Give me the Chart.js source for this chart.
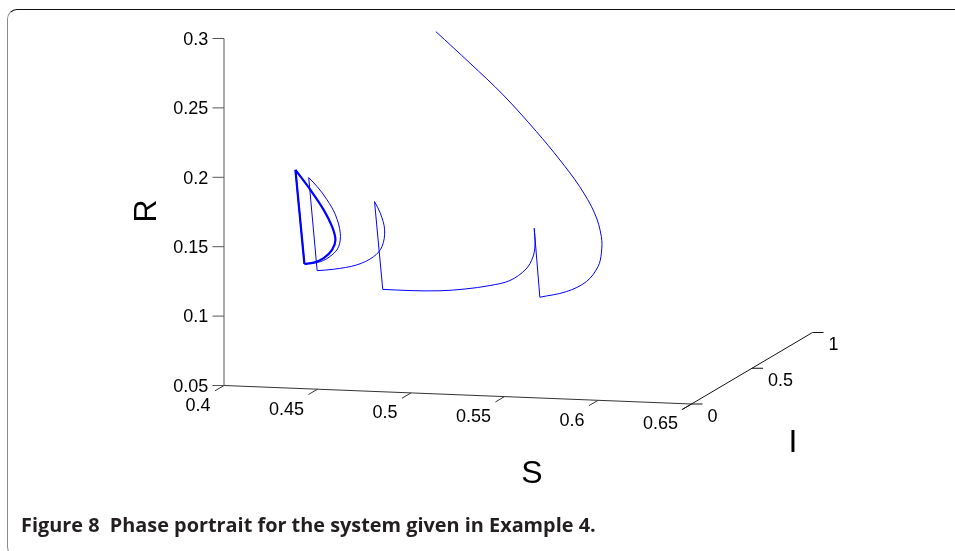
<!DOCTYPE html>
<html>
<head>
<meta charset="utf-8">
<script src="https://cdn.jsdelivr.net/npm/chart.js@4.4.1/dist/chart.umd.min.js"></script>
<style>
  html, body { margin: 0; padding: 0; background: #fff; overflow: hidden; width: 955px; height: 551px; }
  #lienzo { position: absolute; left: 0; top: 0; }
  #marco {
    position: absolute; left: 7px; top: 9px; width: 1000px; height: 546px;
    border-top: 1.5px solid #111; border-left: 1.5px solid #8a8a8a; border-bottom: 1.5px solid #8a8a8a;
    border-top-left-radius: 10px; border-bottom-left-radius: 10px;
  }
  #pie {
    position: absolute; left: 21px; top: 518px; line-height: 1;
    font-family: "Open Sans", sans-serif; font-weight: bold; font-size: 17px;
    color: #231f20; white-space: pre;
  }
</style>
</head>
<body>
<div id="marco"></div>
<canvas id="lienzo" width="955" height="551"></canvas>
<div id="pie">Figure 8  Phase portrait for the system given in Example 4.</div>
<script>
/* tick values and labels of the three axes */
const ticks_s  = [0.4, 0.45, 0.5, 0.55, 0.6, 0.65];
const labels_s = ['0.4', '0.45', '0.5', '0.55', '0.6', '0.65'];
const ticks_r  = [0.05, 0.1, 0.15, 0.2, 0.25, 0.3];
const labels_r = ['0.05', '0.1', '0.15', '0.2', '0.25', '0.3'];
const ticks_i  = [0, 0.5, 1];
const labels_i = ['0', '0.5', '1'];

/* trajectory pieces between impulses, [S, R] read in the I = 0 plane */
const arc_1 = [[0.5133, 0.3110], [0.5316, 0.2892], [0.5493, 0.2673], [0.5671, 0.2418], [0.5796, 0.2221],
               [0.5902, 0.2034], [0.5982, 0.1847], [0.6018, 0.1680], [0.6018, 0.1561], [0.6000, 0.1463],
               [0.5938, 0.1352], [0.5831, 0.1274], [0.5689, 0.1226]];
const arc_2 = [[0.5659, 0.1721], [0.5663, 0.1601], [0.5652, 0.1514], [0.5615, 0.1425], [0.5529, 0.1338],
               [0.5422, 0.1296], [0.5289, 0.1264], [0.5155, 0.1244], [0.4995, 0.1237], [0.4849, 0.1238]];
const arc_3 = [[0.4805, 0.1868], [0.4836, 0.1786], [0.4859, 0.1667], [0.4845, 0.1546], [0.4800, 0.1471],
               [0.4711, 0.1407], [0.4587, 0.1369], [0.4498, 0.1354]];
const arc_4 = [[0.4453, 0.2022], [0.4498, 0.1960], [0.4551, 0.1867], [0.4596, 0.1761], [0.4622, 0.1630],
               [0.4613, 0.1533], [0.4578, 0.1472], [0.4516, 0.1420], [0.4430, 0.1399]];
/* the periodic orbit the solution settles on */
const ciclo = [[0.4382, 0.2074], [0.4462, 0.1934], [0.4533, 0.1794], [0.4578, 0.1676], [0.4596, 0.1581],
               [0.4578, 0.1508], [0.4533, 0.1446], [0.4480, 0.1411], [0.4430, 0.1399]];

/* view of the 3d box: S along x, R up, I goes back to the right */
const S_MIN = 0.4, S_MAX = 0.65, R_MIN = 0.05, R_MAX = 0.3, I_MIN = -0.08, I_MAX = 1;
const PX_S = 1870, PX_R = 1388;            /* pixels per unit of S and R */
const ORIG_X = 224, ORIG_Y = 385.5;        /* pixel of S=0.4, R=0.05, I=0 */
const INCL_S = 74 / PX_R;                  /* S axis drops a little to the right */
const I_DX = 121 / PX_S, I_DY = 71.5 / PX_R;

function a_vista(s, r, i) {
    return { x: s + i * I_DX, y: r - (s - S_MIN) * INCL_S + i * I_DY };
}
const a_puntos = arco => arco.map(p => a_vista(p[0], p[1], 0));

/* straight jumps at the impulse times */
const arcos = [arc_1, arc_2, arc_3, arc_4, ciclo];
const saltos = [];
for (let k = 0; k < arcos.length - 1; k++) {
    saltos.push([arcos[k][arcos[k].length - 1], arcos[k + 1][0]]);
}

const AZUL = '#0000ff';
const curva = (arco, ancho) => ({
    data: a_puntos(arco), showLine: true, borderColor: AZUL, borderWidth: ancho,
    pointRadius: 0, tension: 0.35, fill: false
});
const recta = (arco, ancho) => ({
    data: a_puntos(arco), showLine: true, borderColor: AZUL, borderWidth: ancho,
    pointRadius: 0, tension: 0, fill: false
});

const datasets = [
    curva(arc_1, 1), curva(arc_2, 1), curva(arc_3, 1), curva(arc_4, 1),
    ...saltos.slice(0, 3).map(s => recta(s, 1)),
    recta(saltos[3], 1.3),
    curva(ciclo, 2.2),
    recta([ciclo[ciclo.length - 1], ciclo[0]], 2.2)
];

/* draws the three box axes, their ticks, labels and titles */
const ejes_3d = {
    id: 'ejes_3d',
    beforeDatasetsDraw(chart) {
        const ctx = chart.ctx;
        const ex = chart.scales.x, ey = chart.scales.y;
        const px = (s, r, i) => {
            const v = a_vista(s, r, i);
            return [ex.getPixelForValue(v.x), ey.getPixelForValue(v.y)];
        };
        const linea = (a, b) => { ctx.beginPath(); ctx.moveTo(a[0], a[1]); ctx.lineTo(b[0], b[1]); ctx.stroke(); };

        ctx.save();
        ctx.lineWidth = 1;
        ctx.strokeStyle = '#333';
        ctx.fillStyle = '#000';
        ctx.font = '18px "Liberation Sans", Arial, sans-serif';

        /* S axis */
        linea(px(S_MIN, R_MIN, 0), px(S_MAX, R_MIN, 0));
        ctx.textAlign = 'right';
        ctx.textBaseline = 'alphabetic';
        ticks_s.forEach((s, k) => {
            const a = px(s, R_MIN, 0), b = px(s, R_MIN, -0.075);
            linea(a, b);
            ctx.fillText(labels_s[k], b[0] - 4.5, b[1] + 20);
        });

        /* R axis */
        ctx.strokeStyle = '#555';
        linea(px(S_MIN, R_MIN, 0), px(S_MIN, R_MAX, 0));
        ticks_r.forEach((r, k) => {
            const a = px(S_MIN, r, 0);
            linea(a, [a[0] - 11.5, a[1]]);
            ctx.fillText(labels_r[k], a[0] - 15.7, a[1] + 6.3);
        });

        /* I axis */
        ctx.strokeStyle = '#111';
        linea(px(S_MAX, R_MIN, I_MIN), px(S_MAX, R_MIN, I_MAX));
        ctx.textAlign = 'left';
        ticks_i.forEach((i, k) => {
            const a = px(S_MAX, R_MIN, i);
            linea(a, [a[0] + 11, a[1]]);
            ctx.fillText(labels_i[k], a[0] + 16, a[1] + 17.5);
        });

        /* axis titles */
        ctx.font = '32px "Liberation Sans", Arial, sans-serif';
        ctx.textAlign = 'center';
        ctx.textBaseline = 'middle';
        ctx.fillText('S', 532, 474);
        ctx.fillText('I', 793, 443);
        ctx.translate(146, 211);
        ctx.rotate(-Math.PI / 2);
        ctx.fillText('R', 0, 1);
        ctx.restore();
    }
};

const ANCHO = 955, ALTO = 551;
new Chart(document.getElementById('lienzo'), {
    type: 'scatter',
    data: { datasets },
    options: {
        responsive: false,
        animation: false,
        devicePixelRatio: 1,
        layout: { padding: 0 },
        plugins: { legend: { display: false }, tooltip: { enabled: false } },
        scales: {
            x: { type: 'linear', display: false, min: S_MIN - ORIG_X / PX_S, max: S_MIN + (ANCHO - ORIG_X) / PX_S },
            y: { type: 'linear', display: false, min: R_MIN - (ALTO - ORIG_Y) / PX_R, max: R_MIN + ORIG_Y / PX_R }
        }
    },
    plugins: [ejes_3d]
});

/* fit the caption to the width it has in the figure */
const pie = document.getElementById('pie');
const medidor = document.createElement('canvas').getContext('2d');
medidor.font = 'bold 100px "Open Sans"';
const tam = 100 * 575 / medidor.measureText(pie.textContent).width;
pie.style.fontSize = tam.toFixed(2) + 'px';
pie.style.top = (533 - 0.888 * tam).toFixed(1) + 'px';
</script>
</body>
</html>
